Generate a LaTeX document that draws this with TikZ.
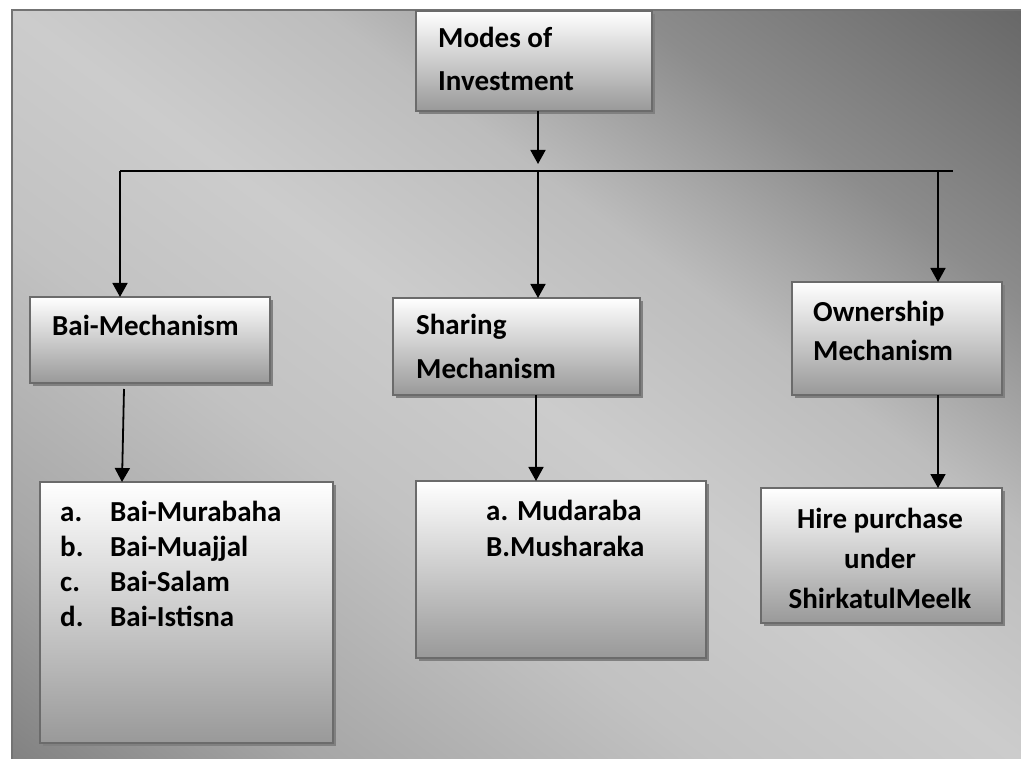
\documentclass[tikz,border=0pt]{standalone}
\usepackage{fontspec}
\setmainfont{Carlito}
\usetikzlibrary{arrows.meta,shadows}

% background tones, from the lower-left side across the light diagonal to the upper-right side
\definecolor{bgA}{gray}{0.50}
\definecolor{bgB}{gray}{0.65}
\definecolor{bgC}{gray}{0.76}
\definecolor{bgD}{gray}{0.80}
\definecolor{bgE}{gray}{0.74}
\definecolor{bgF}{gray}{0.55}
\definecolor{bgG}{gray}{0.40}
\pgfdeclareverticalshading{bgshade}{100bp}{color(0bp)=(bgA); color(25bp)=(bgA); color(32.75bp)=(bgB); color(42.5bp)=(bgC); color(50bp)=(bgD); color(57.5bp)=(bgE); color(65bp)=(bgF); color(75bp)=(bgG); color(100bp)=(bgG)}

\begin{document}
\begin{tikzpicture}[x=1pt,y=-1pt,
  box/.style={draw=black!58, line width=1.5pt, top color=white, bottom color=black!40,
    drop shadow={shadow xshift=3pt, shadow yshift=-3pt, fill=black!50, opacity=1},
    anchor=north west, inner sep=0pt, outer sep=0pt},
  % anchored at the baseline of the last line
  lbl/.style={font=\fontsize{29}{#1}\selectfont\bfseries, inner sep=0pt, anchor=base west, align=left},
  lbl/.default=43,
  arr/.style={line width=1.8pt, -{Triangle[width=15pt,length=14pt]}},
  bus/.style={line width=1.8pt}]
\useasboundingbox (0,0) rectangle (1021,759);

% shaded backdrop
\begin{scope}
  \clip (12,10) rectangle (1021,759);
  \shade[shading=bgshade, transform canvas={rotate around={-36.6:(516,384)}}]
    (-144,-228) rectangle (1176,996);
\end{scope}
\draw[black!55, line width=2pt] (12,10) rectangle (1040,780);

% boxes
\node[box, minimum width=236pt, minimum height=100pt] (top)   at (416,11)  {};
\node[box, minimum width=240pt, minimum height=86pt]  (bai)   at (30,297)  {};
\node[box, minimum width=247pt, minimum height=97pt]  (share) at (393,298) {};
\node[box, minimum width=210pt, minimum height=113pt] (own)   at (792,282) {};
\node[box, minimum width=293pt, minimum height=261pt] (list)  at (40,482)  {};
\node[box, minimum width=290pt, minimum height=177pt] (muda)  at (416,481) {};
\node[box, minimum width=241pt, minimum height=135pt] (hire)  at (761,488) {};

% texts
\node[lbl=43] (topt)   at (438,91)  {Modes of\\Investment};
\node[lbl]    (bait)   at (52,336)  {Bai-Mechanism};
\node[lbl=44] (sharet) at (416,379) {Sharing\\Mechanism};
\node[lbl=39] (ownt)   at (813,361) {Ownership\\Mechanism};
\node[lbl=35] (listt)  at (60,626)  {\makebox[50pt][l]{a.}Bai-Murabaha\\
  \makebox[50pt][l]{b.}Bai-Muajjal\\
  \makebox[50pt][l]{c.}Bai-Salam\\
  \makebox[50pt][l]{d.}Bai-Istisna};
\node[lbl=36] (mudat)  at (486,556) {a. Mudaraba\\B.Musharaka};
\node[lbl=40, anchor=base, align=center] (hiret) at (880,608) {Hire purchase\\under\\ShirkatulMeelk};

% connectors
\coordinate (hub)  at (538,164);
\coordinate (busL) at (120,171);
\coordinate (busM) at (538,171);
\coordinate (busO) at (938,171);
\coordinate (busR) at (953,171);
\draw[arr] (top.south -| hub) -- (hub);
\draw[bus] (busL) -- (busR);
\draw[arr] (busL) -- (busL |- bai.north);
\draw[arr] (busM) -- (busM |- share.north);
\draw[arr] (busO) -- (busO |- own.north);
\draw[arr] ([xshift=-26pt,yshift=-6pt]bai.south) -- ([xshift=-64.5pt]list.north);
\draw[arr] ([xshift=19.5pt]share.south) -- ([xshift=-25pt]muda.north);
\draw[arr] ([xshift=41pt]own.south) -- ([xshift=56.5pt]hire.north);
\end{tikzpicture}
\end{document}
